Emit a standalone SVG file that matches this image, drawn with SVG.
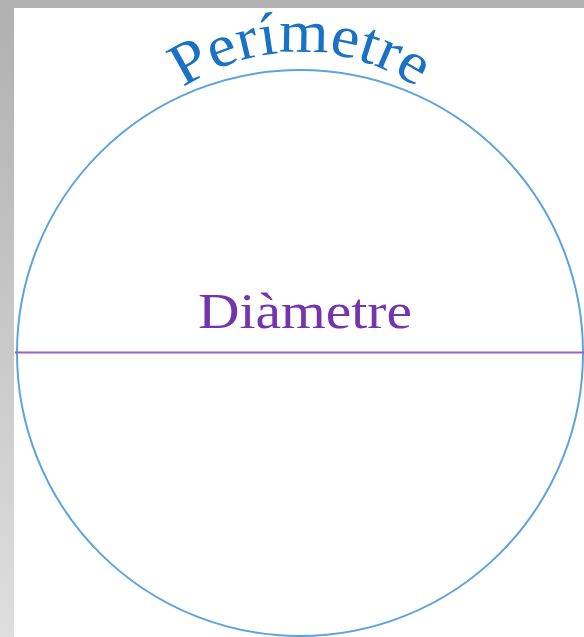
<svg xmlns="http://www.w3.org/2000/svg" width="584" height="637" viewBox="0 0 584 637">
  <defs>
    <linearGradient id="sideGrad" x1="0" y1="0" x2="0" y2="1">
      <stop offset="0" stop-color="#b0b0b0"/>
      <stop offset="1" stop-color="#dedede"/>
    </linearGradient>
    <path id="arcPath" d="M 90 262 A 210 210 0 0 1 510 262"/>
  </defs>
  <style>
    .lbl { font-family: "Liberation Serif", "Times New Roman", serif; }
    .perim { fill: #1a72c4; font-size: 60px; }
    .diam { fill: #7435ac; font-size: 50px; }
  </style>
  <g id="background">
    <rect x="0" y="0" width="584" height="637" fill="url(#sideGrad)"/>
    <rect x="0" y="0" width="584" height="8" fill="#b2b2b2"/>
    <rect x="14" y="8" width="570" height="629" fill="#ffffff"/>
  </g>
  <g id="circle">
    <circle cx="300" cy="353" r="283" fill="none" stroke="#5ea3dd" stroke-width="2"/>
  </g>
  <g id="diameter">
    <line x1="15" y1="352.5" x2="584" y2="352.5" stroke="#9562c6" stroke-width="2"/>
  </g>
  <g id="labels">
    <text class="lbl perim"><textPath href="#arcPath" startOffset="50%" text-anchor="middle" textLength="248" lengthAdjust="spacingAndGlyphs">Perímetre</textPath></text>
    <text class="lbl diam" x="198" y="328" textLength="214" lengthAdjust="spacingAndGlyphs">Diàmetre</text>
  </g>
</svg>
